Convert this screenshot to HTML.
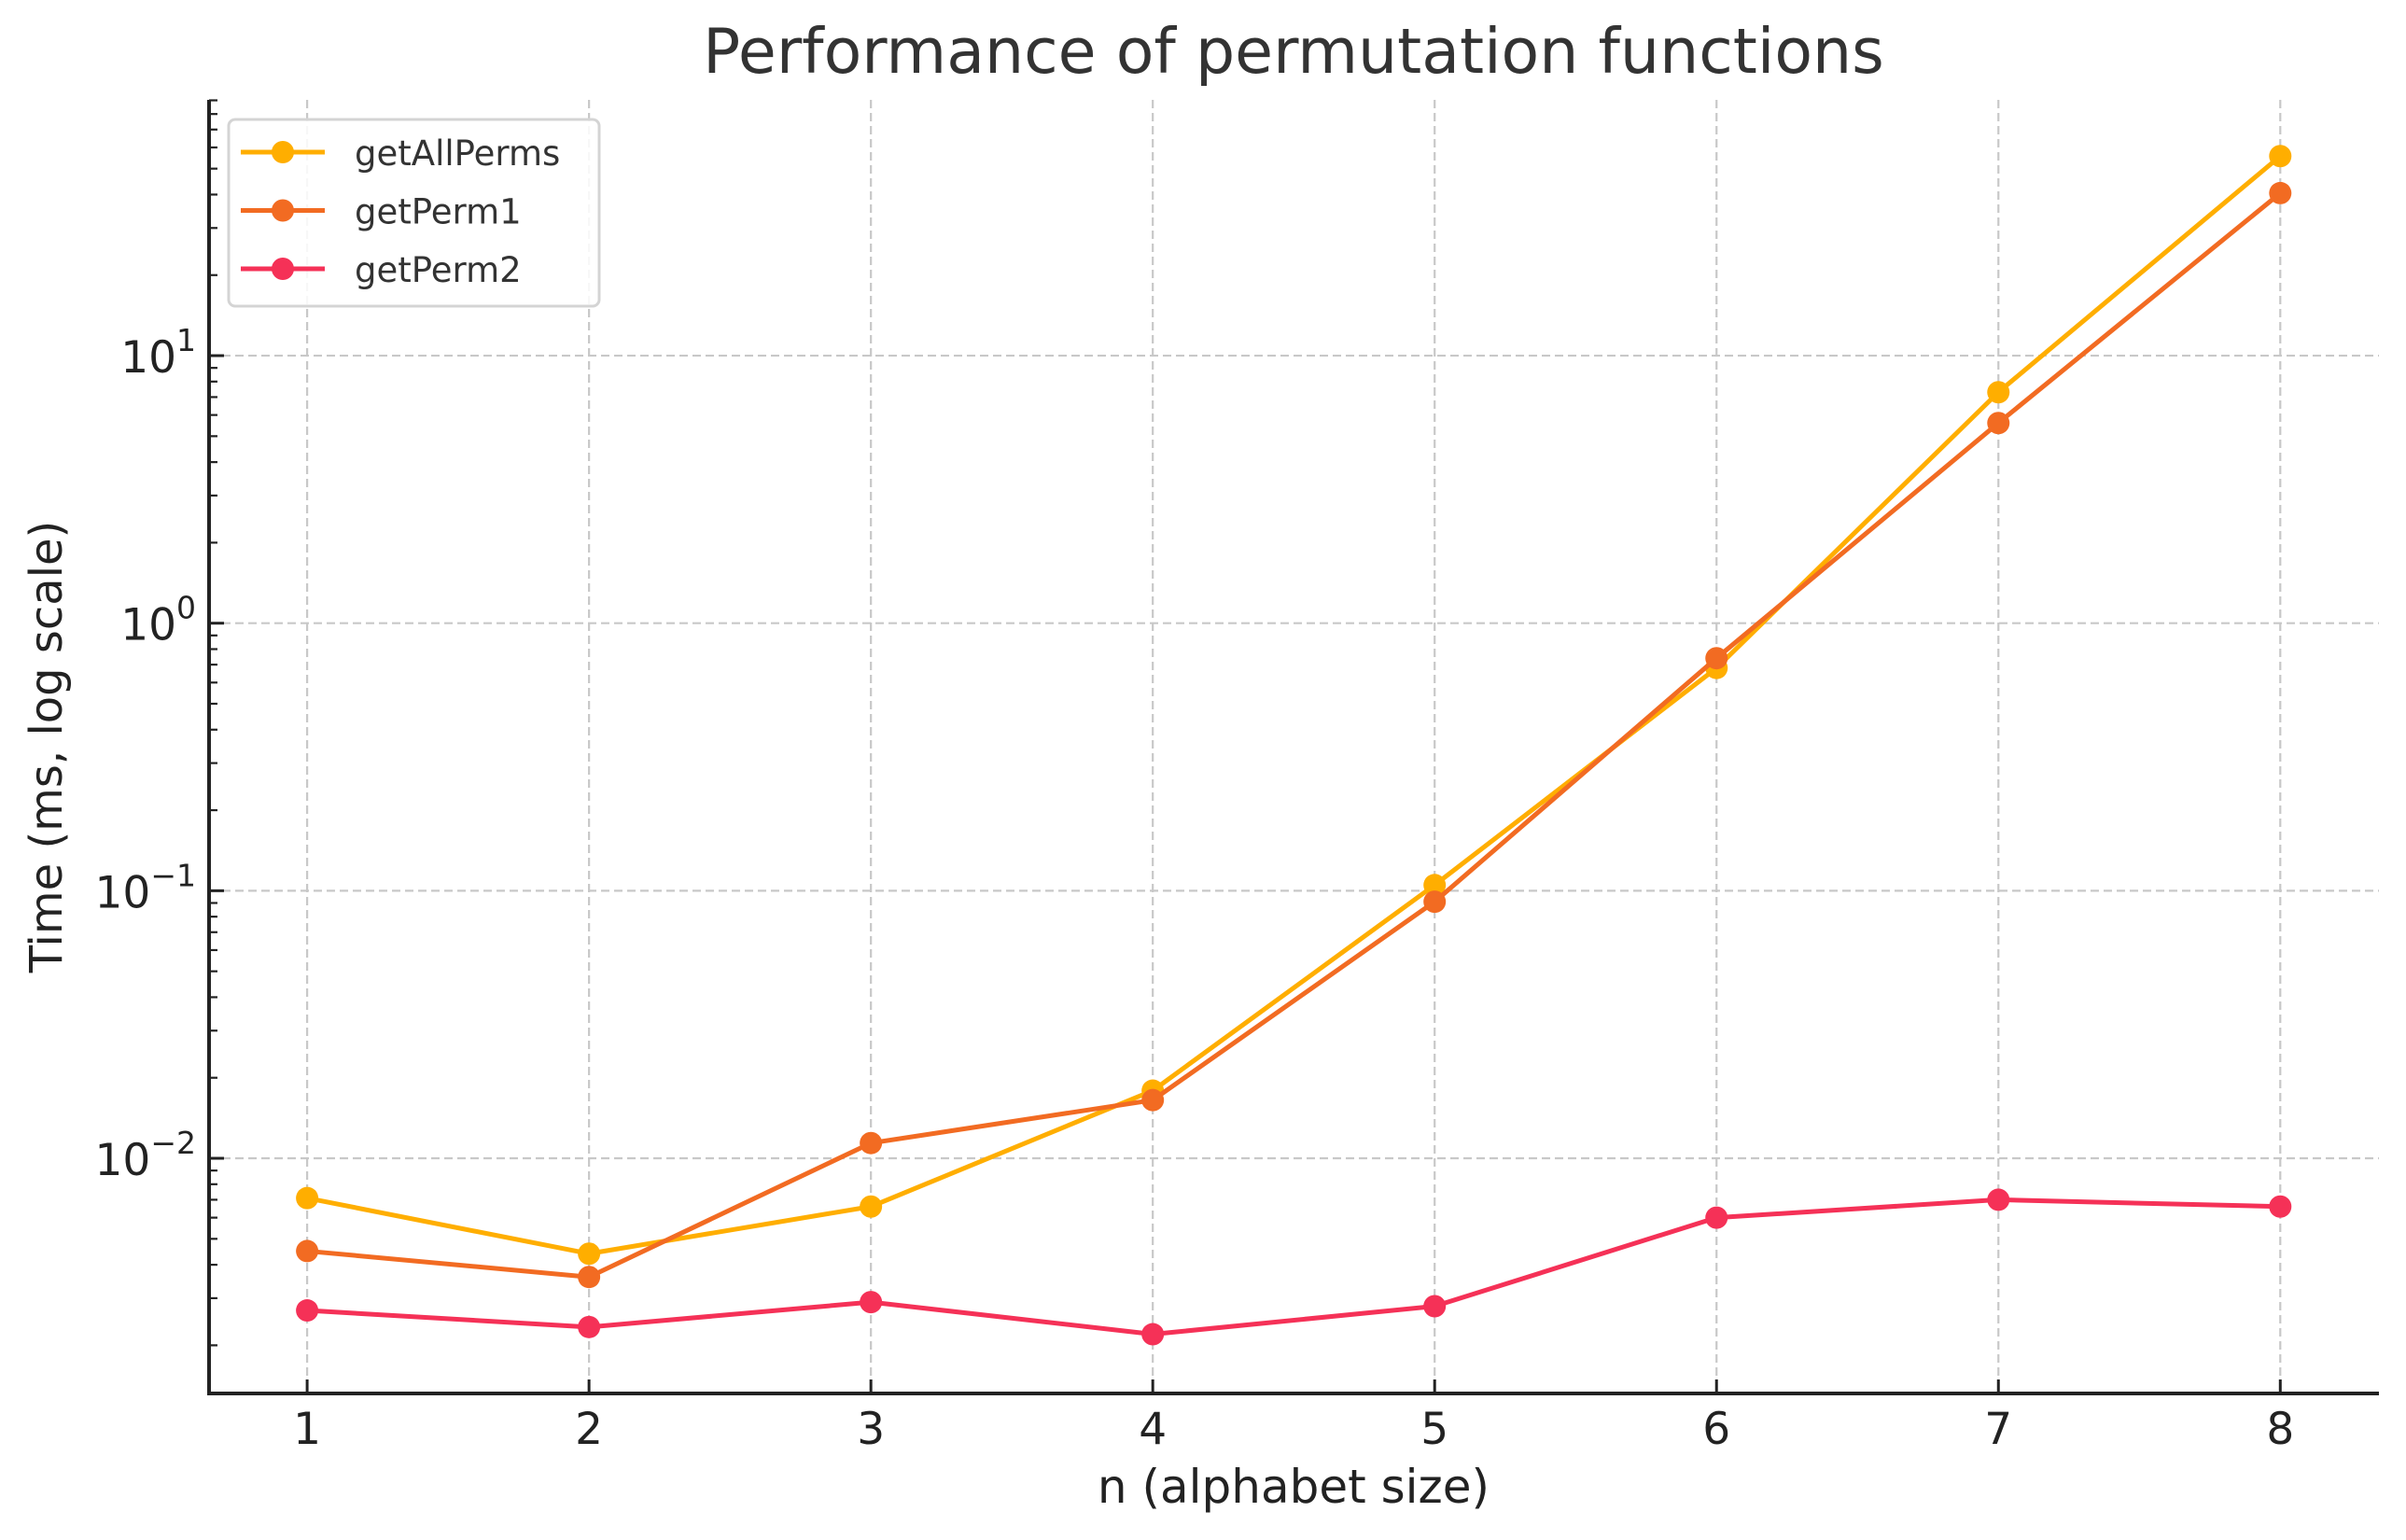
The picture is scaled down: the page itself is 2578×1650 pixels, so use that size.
<!DOCTYPE html>
<html><head><meta charset="utf-8"><style>
html,body{margin:0;padding:0;background:#fff;}
svg{display:block;font-family:"DejaVu Sans","Liberation Sans",sans-serif;}
</style></head><body>
<svg id="chart" width="2578" height="1650" viewBox="0 0 2578 1650" xmlns="http://www.w3.org/2000/svg">
<rect width="2578" height="1650" fill="#fff"/>
<g id="grid"></g>
<g id="axes"></g>
<g id="series"></g>
<text x="1386" y="78" font-size="66.5" text-anchor="middle" fill="#333">Performance of permutation functions</text>
<text x="1386" y="1610" font-size="50" text-anchor="middle" fill="#222">n (alphabet size)</text>
<text transform="translate(66,800) rotate(-90)" font-size="48" text-anchor="middle" fill="#222">Time (ms, log scale)</text>
<g id="legend"></g>
</svg>
<script>
const categories = [1,2,3,4,5,6,7,8];
const getAllPerms = [0.0071,0.0044,0.0066,0.0179,0.105,0.68,7.3,55.7];
const getPerm1 = [0.0045,0.0036,0.0114,0.0165,0.091,0.74,5.6,40.5];
const getPerm2 = [0.0027,0.00234,0.0029,0.0022,0.0028,0.0060,0.0070,0.0066];
const seriesNames = ["getAllPerms","getPerm1","getPerm2"];
const yDecades = [-2,-1,0,1];

const NS="http://www.w3.org/2000/svg";
const L=224,R=2549,T=107,B=1493;
const xMin=0.652,xMax=8.35,yMin=-2.879,yMax=1.956;
const xs=v=>L+(v-xMin)/(xMax-xMin)*(R-L);
const ys=v=>B-(Math.log10(v)-yMin)/(yMax-yMin)*(B-T);
function mk(tag,attrs,parent){const e=document.createElementNS(NS,tag);for(const k in attrs)e.setAttribute(k,attrs[k]);parent.appendChild(e);return e;}
const grid=document.getElementById('grid'),axes=document.getElementById('axes'),ser=document.getElementById('series'),leg=document.getElementById('legend');

categories.forEach(c=>{
  const x=xs(c);
  const g=mk('line',{x1:x,x2:x,y1:T,y2:B,stroke:'#c8c8c8','stroke-width':2.2,'stroke-dasharray':'9,5'},grid);
  
  
  const t=mk('line',{x1:x,x2:x,y1:B-15,y2:B,stroke:'#222','stroke-width':3},axes);
  
  
  const lb=mk('text',{x:x,y:1547,'font-size':47,'text-anchor':'middle',fill:'#222'},axes);
  lb.textContent=c;
  
  
});
yDecades.forEach(d=>{
  const y=ys(Math.pow(10,d));
  const g=mk('line',{x1:L,x2:R,y1:y,y2:y,stroke:'#c8c8c8','stroke-width':2.2,'stroke-dasharray':'9,5'},grid);
  
  
  const t=mk('line',{x1:L,x2:L+16,y1:y,y2:y,stroke:'#222','stroke-width':3},axes);
  
  
  const lb=mk('text',{x:L-14,y:y+18,'font-size':47,'text-anchor':'end',fill:'#222'},axes);
  lb.innerHTML='10<tspan dy="-23" font-size="33">'+(d<0?'\u2212'+(-d):d)+'</tspan>';
  
  
});
for(let d=-3;d<=1;d++){for(let m=2;m<=9;m++){const v=m*Math.pow(10,d);const lv=Math.log10(v);if(lv<yMin||lv>yMax)continue;const y=ys(v);
  const t=mk('line',{x1:L,x2:L+9,y1:y,y2:y,stroke:'#222','stroke-width':2.2},axes);
  
  }}
const sp1=mk('line',{x1:L,x2:L,y1:T,y2:B+2,stroke:'#222','stroke-width':4},axes);


const sp2=mk('line',{x1:L-2,x2:R,y1:B,y2:B,stroke:'#222','stroke-width':4},axes);



const colors=['#ffae00','#f26b22','#f53157'];
[getAllPerms,getPerm1,getPerm2].forEach((arr,i)=>{
  const pts=arr.map((v,j)=>xs(categories[j])+','+ys(v)).join(' ');
  const pl=mk('polyline',{points:pts,fill:'none',stroke:colors[i],'stroke-width':5,'stroke-linejoin':'round'},ser);
  
  
  arr.forEach((v,j)=>{
    const c=mk('circle',{cx:xs(categories[j]),cy:ys(v),r:12,fill:colors[i]},ser);
    
    
  });
});

const box=mk('rect',{x:245,y:128,width:397,height:200,rx:7,fill:'#fff','fill-opacity':0.85,stroke:'#d4d4d4','stroke-width':3},leg);


seriesNames.forEach((n,i)=>{
  const y=163+i*62.5;
  const g=mk('g',{},leg);
  
  
  mk('line',{x1:258,x2:348,y1:y,y2:y,stroke:colors[i],'stroke-width':5},g);
  mk('circle',{cx:303,cy:y,r:12,fill:colors[i]},g);
  const t=mk('text',{x:380,y:y+14,'font-size':37,fill:'#333'},g);
  t.textContent=n;
});
</script>
</body></html>
